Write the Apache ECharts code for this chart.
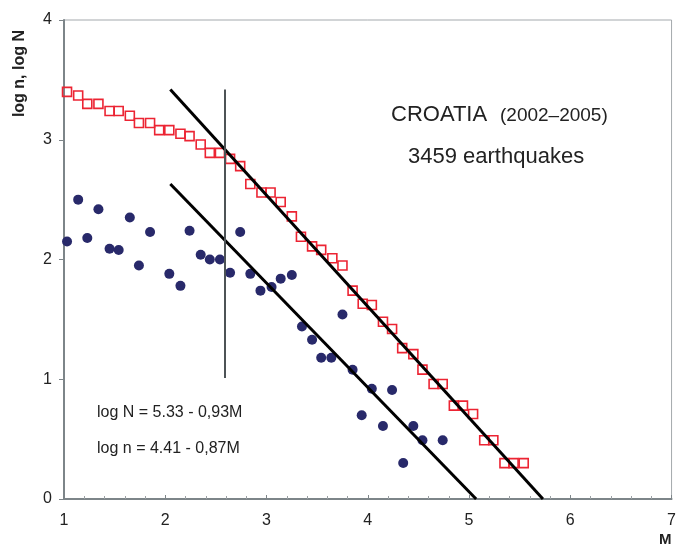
<!DOCTYPE html>
<html>
<head>
<meta charset="utf-8">
<script src="https://cdn.jsdelivr.net/npm/echarts@6/dist/echarts.min.js"></script>
<style>
  html, body { margin: 0; padding: 0; background: #fff; }
  #chart { width: 679px; height: 547px; }
</style>
</head>
<body>
<div id="chart"></div>
<script>
// cumulative counts, log N (red squares)
var magN = [1.03, 1.14, 1.23, 1.34, 1.45, 1.54, 1.65, 1.74, 1.85, 1.94,
  2.04, 2.15, 2.24, 2.35, 2.44, 2.54, 2.64, 2.74, 2.84, 2.95,
  3.04, 3.14, 3.25, 3.34, 3.45, 3.54, 3.65, 3.75, 3.85, 3.95,
  4.04, 4.15, 4.24, 4.34, 4.45, 4.54, 4.65, 4.74, 4.85, 4.94,
  5.04, 5.15, 5.24, 5.35, 5.44, 5.54]
var logN = [3.40, 3.37, 3.30, 3.30, 3.24, 3.24, 3.20, 3.14, 3.14, 3.08,
  3.08, 3.05, 3.03, 2.96, 2.89, 2.89, 2.84, 2.78, 2.63, 2.56,
  2.56, 2.48, 2.36, 2.19, 2.11, 2.08, 2.01, 1.95, 1.74, 1.63,
  1.62, 1.48, 1.42, 1.26, 1.21, 1.08, 0.96, 0.96, 0.78, 0.78,
  0.71, 0.49, 0.49, 0.30, 0.30, 0.30]

// counts per magnitude bin, log n (blue dots)
var magn = [1.03, 1.14, 1.23, 1.34, 1.45, 1.54, 1.65, 1.74, 1.85,
  2.04, 2.15, 2.24, 2.35, 2.44, 2.54, 2.64, 2.74, 2.84, 2.94,
  3.05, 3.14, 3.25, 3.35, 3.45, 3.54, 3.64, 3.75, 3.85, 3.94,
  4.04, 4.15, 4.24, 4.35, 4.45, 4.54, 4.74]
var logn = [2.15, 2.50, 2.18, 2.42, 2.09, 2.08, 2.35, 1.95, 2.23,
  1.88, 1.78, 2.24, 2.04, 2.00, 2.00, 1.89, 2.23, 1.88, 1.74,
  1.77, 1.84, 1.87, 1.44, 1.33, 1.18, 1.18, 1.54, 1.08, 0.70,
  0.92, 0.61, 0.91, 0.30, 0.61, 0.49, 0.49]

// fitted lines and magnitude of completeness
var fitN = [[2.05, 3.42], [5.73, 0]]
var fitn = [[2.05, 2.63], [5.07, 0]]
var mc = [[2.59, 1.01], [2.59, 3.42]]

var xTicks = [1, 2, 3, 4, 5, 6, 7]
var yTicks = [0, 1, 2, 3, 4]

function pairs (xs, ys) {
  return xs.map(function (x, i) { return [x, ys[i]] })
}

var font = 'Liberation Sans, Arial, sans-serif'
var chart = echarts.init(document.getElementById('chart'))

var option = {
  animation: false,
  grid: {
    left: 64, right: 5, top: 20, bottom: 48,
    show: true, borderColor: '#a4a9ad', borderWidth: 1
  },
  xAxis: {
    type: 'value',
    min: xTicks[0], max: xTicks[xTicks.length - 1], interval: 1,
    axisLine: { lineStyle: { color: '#7d8589', width: 2 } },
    axisTick: { inside: true, length: 4, lineStyle: { color: '#7d8589' } },
    minorTick: { show: true, splitNumber: 5, length: 3, lineStyle: { color: '#9aa0a3' } },
    axisLabel: { fontFamily: font, fontSize: 16, color: '#222', margin: 14 },
    splitLine: { show: false }
  },
  yAxis: {
    type: 'value',
    min: yTicks[0], max: yTicks[yTicks.length - 1], interval: 1,
    axisLine: { show: true, lineStyle: { color: '#7d8589', width: 2 } },
    axisTick: { show: true, length: 5, lineStyle: { color: '#7d8589' } },
    axisLabel: { fontFamily: font, fontSize: 16, color: '#222', margin: 12 },
    splitLine: { show: false }
  },
  graphic: [
    {
      type: 'text', left: 12, top: 30, rotation: Math.PI / 2,
      style: { text: 'log n, log N', font: 'bold 16px ' + font, fill: '#222' }
    },
    {
      type: 'text', left: 659, top: 532,
      style: { text: 'M', font: 'bold 15px ' + font, fill: '#222' }
    },
    {
      type: 'text', left: 391, top: 104,
      style: { text: 'CROATIA', font: '22px ' + font, fill: '#222' }
    },
    {
      type: 'text', left: 500, top: 106,
      style: { text: '(2002\u20132005)', font: '19px ' + font, fill: '#222' }
    },
    {
      type: 'text', left: 408, top: 146,
      style: { text: '3459 earthquakes', font: '22px ' + font, fill: '#222' }
    },
    {
      type: 'text', left: 97, top: 405,
      style: { text: 'log N = 5.33 - 0,93M', font: '16px ' + font, fill: '#222' }
    },
    {
      type: 'text', left: 97, top: 441,
      style: { text: 'log n = 4.41 - 0,87M', font: '16px ' + font, fill: '#222' }
    }
  ],
  series: [
    {
      name: 'log N',
      type: 'scatter',
      data: pairs(magN, logN),
      symbol: 'rect',
      symbolSize: 9,
      itemStyle: { color: 'rgba(0,0,0,0)', borderColor: '#ec2433', borderWidth: 1.6, opacity: 1 },
      z: 2
    },
    {
      name: 'log n',
      type: 'scatter',
      data: pairs(magn, logn),
      symbol: 'circle',
      symbolSize: 10,
      itemStyle: { color: '#28296a', opacity: 1 },
      z: 2
    },
    {
      type: 'line', data: fitN, symbol: 'none',
      lineStyle: { color: '#000', width: 3 }, z: 3
    },
    {
      type: 'line', data: fitn, symbol: 'none',
      lineStyle: { color: '#000', width: 3 }, z: 3
    },
    {
      type: 'line', data: mc, symbol: 'none',
      lineStyle: { color: '#4d5356', width: 2 }, z: 3
    }
  ]
}

chart.setOption(option)
</script>
</body>
</html>
